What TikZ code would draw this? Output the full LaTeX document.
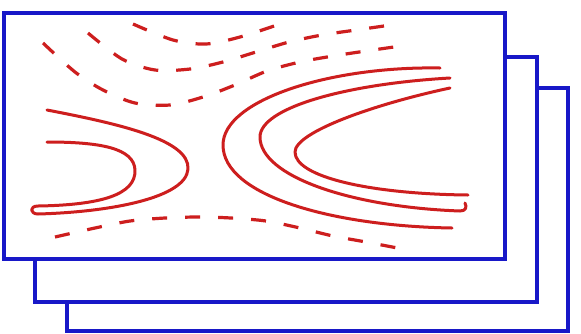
\documentclass[tikz,border=0pt]{standalone}
\definecolor{frameblue}{RGB}{24,24,200}
\definecolor{curvered}{RGB}{205,30,30}
\tikzset{
  sheet/.style={draw=frameblue, line width=3.4pt, fill=white},
  solidcurve/.style={draw=curvered, line width=3pt, line cap=round, line join=round},
  dashcurve/.style={draw=curvered, line width=3.2pt, dash pattern=on 15pt off 18pt}
}
\begin{document}
\begin{tikzpicture}[x=1pt,y=-1pt]
\useasboundingbox (0,0) rectangle (581,333);
% stacked sheets
\draw[sheet] (67,88) rectangle (568,331);
\draw[sheet] (35,57) rectangle (537,302);
\draw[sheet] (4,13) rectangle (505,259);
% left hairpin
\draw[solidcurve] (47,110) .. controls (120,124) and (190,140) .. (188,169)
  .. controls (186,198) and (110,212) .. (38,214)
  .. controls (30,214) and (29,206) .. (38,206)
  .. controls (100,205) and (136,195) .. (135,170)
  .. controls (134,148) and (100,142) .. (47,142);
% right nested curves
\draw[solidcurve] (440,68) .. controls (330,66) and (223,100) .. (223,145)
  .. controls (223,195) and (330,226) .. (452,228);
\draw[solidcurve] (450,78) .. controls (345,84) and (260,108) .. (260,137)
  .. controls (260,176) and (350,207) .. (460,211)
  .. controls (466,211) and (467,207) .. (465,203);
\draw[solidcurve] (450,88) .. controls (375,104) and (295,132) .. (295,152)
  .. controls (295,177) and (370,194) .. (468,195);
% dashed curves
\draw[dashcurve] plot[smooth] coordinates {(43,43) (75,72) (103,90) (135,103) (170,105) (203,97) (235,85) (267,71) (300,62) (333,56) (366,51) (408,45)};
\draw[dashcurve] plot[smooth] coordinates {(88,33) (122,59) (155,70) (190,69) (223,62) (256,52) (289,42) (322,35) (356,30) (398,24)};
\draw[dashcurve] plot[smooth] coordinates {(133,24) (173,40) (206,44) (240,37) (280,24)};
\draw[dashcurve] plot[smooth] coordinates {(55,237) (95,228) (130,221) (165,218) (198,217) (231,218) (266,221) (300,228) (333,236) (366,242) (408,250)};
\end{tikzpicture}
\end{document}
